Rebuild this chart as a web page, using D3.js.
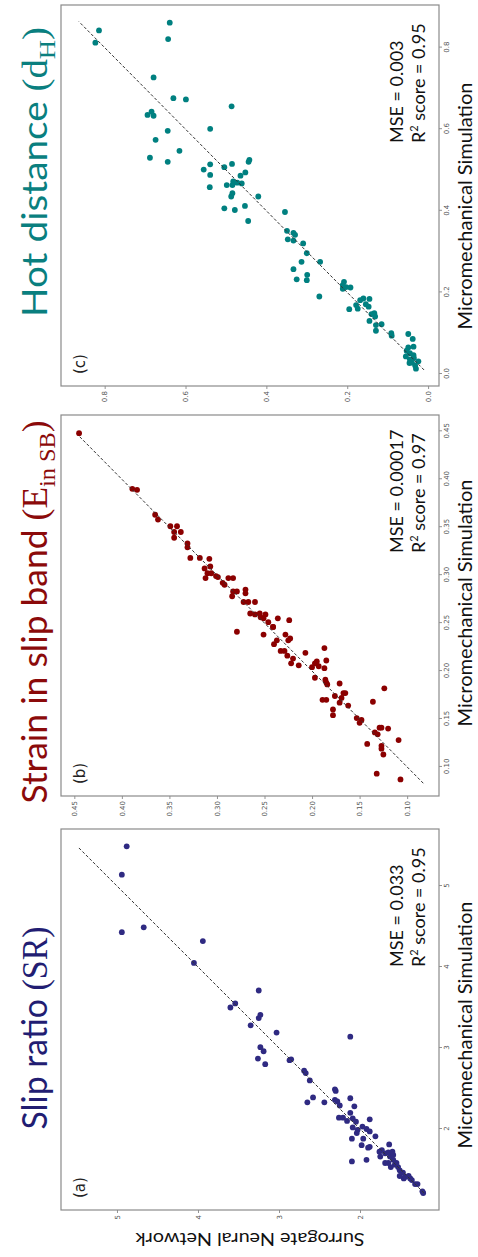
<!DOCTYPE html>
<html>
<head>
<meta charset="utf-8">
<script src="https://cdn.jsdelivr.net/npm/d3@7"></script>
<style>
  body { margin: 0; background: #fff; }
  text { font-family: Lato, "Open Sans", sans-serif; }
</style>
</head>
<body>
<div id="chart"></div>
<script>
// values: [micromechanical simulation, surrogate NN]
const slipRatio = [
  [1.21, 1.22], [1.23, 1.23], [1.32, 1.29], [1.32, 1.32], [1.37, 1.36], [1.39, 1.38],
  [1.39, 1.46], [1.41, 1.44], [1.42, 1.40], [1.42, 1.51], [1.46, 1.47], [1.49, 1.51],
  [1.53, 1.53], [1.53, 1.62], [1.56, 1.57], [1.58, 1.55], [1.58, 1.65], [1.58, 1.69],
  [1.62, 1.59], [1.60, 2.10], [1.62, 1.92], [1.66, 1.63], [1.66, 1.75], [1.68, 1.59],
  [1.70, 1.69], [1.71, 1.65], [1.72, 1.60], [1.72, 1.76], [1.74, 1.73], [1.77, 1.90],
  [1.78, 1.88], [1.80, 1.98], [1.81, 1.64], [1.88, 1.96], [1.88, 2.10], [1.91, 1.81],
  [1.95, 2.04], [1.97, 1.88], [1.99, 2.03], [2.00, 1.92], [2.02, 2.09], [2.03, 1.97],
  [2.09, 2.05], [2.10, 2.16], [2.12, 1.88], [2.13, 2.09], [2.14, 2.21], [2.14, 2.26],
  [2.20, 2.12], [2.28, 2.07], [2.29, 2.25], [2.34, 2.28], [2.36, 2.31], [2.38, 2.12],
  [2.47, 2.30], [2.49, 2.31], [2.33, 2.44], [2.33, 2.65], [2.39, 2.58], [2.60, 2.62],
  [2.69, 2.67], [2.72, 2.69], [2.85, 2.87], [2.86, 2.85], [2.80, 3.17], [2.87, 3.26],
  [2.96, 3.19], [3.01, 3.23], [3.14, 2.12], [3.19, 3.03], [3.28, 3.35], [3.37, 3.25],
  [3.41, 3.23], [3.50, 3.60], [3.55, 3.54], [3.71, 3.25], [4.05, 4.05], [4.32, 3.94],
  [4.43, 4.94], [4.49, 4.67], [5.14, 4.94], [5.49, 4.88]
];

const strainSB = [
  [0.087, 0.107], [0.093, 0.132], [0.113, 0.125], [0.119, 0.127], [0.122, 0.127], [0.124, 0.142],
  [0.128, 0.109], [0.134, 0.131], [0.136, 0.134], [0.140, 0.120], [0.141, 0.127], [0.141, 0.129],
  [0.146, 0.150], [0.149, 0.148], [0.151, 0.153], [0.154, 0.178], [0.160, 0.178], [0.164, 0.162],
  [0.167, 0.171], [0.168, 0.136], [0.170, 0.189], [0.170, 0.185], [0.172, 0.169], [0.174, 0.176],
  [0.177, 0.167], [0.177, 0.165], [0.182, 0.124], [0.186, 0.184], [0.187, 0.171], [0.188, 0.185],
  [0.191, 0.186], [0.193, 0.197], [0.203, 0.187], [0.204, 0.200], [0.205, 0.193], [0.206, 0.214],
  [0.208, 0.197], [0.208, 0.222], [0.210, 0.195], [0.211, 0.185], [0.213, 0.220], [0.216, 0.226],
  [0.219, 0.207], [0.221, 0.233], [0.221, 0.229], [0.224, 0.187], [0.228, 0.240], [0.232, 0.237],
  [0.232, 0.225], [0.234, 0.223], [0.238, 0.251], [0.238, 0.228], [0.241, 0.279], [0.246, 0.241],
  [0.246, 0.241], [0.251, 0.246], [0.253, 0.224], [0.255, 0.236], [0.255, 0.251], [0.256, 0.254],
  [0.259, 0.249], [0.259, 0.260], [0.260, 0.255], [0.260, 0.265], [0.272, 0.272], [0.272, 0.260],
  [0.272, 0.267], [0.278, 0.284], [0.281, 0.270], [0.283, 0.283], [0.283, 0.279], [0.285, 0.270],
  [0.290, 0.292], [0.292, 0.294], [0.297, 0.288], [0.297, 0.283], [0.297, 0.312], [0.298, 0.299],
  [0.299, 0.301], [0.302, 0.310], [0.302, 0.306], [0.307, 0.313], [0.309, 0.307], [0.317, 0.308],
  [0.318, 0.328], [0.318, 0.318], [0.329, 0.331], [0.333, 0.331], [0.339, 0.345], [0.345, 0.345],
  [0.345, 0.338], [0.351, 0.349], [0.351, 0.342], [0.358, 0.362], [0.363, 0.365], [0.389, 0.384],
  [0.390, 0.389], [0.448, 0.445]
];

const hotDistance = [
  [0.013, 0.030], [0.021, 0.032], [0.027, 0.046], [0.028, 0.040], [0.031, 0.024], [0.036, 0.045],
  [0.039, 0.035], [0.043, 0.055], [0.046, 0.036], [0.051, 0.045], [0.057, 0.053], [0.065, 0.049],
  [0.067, 0.036], [0.086, 0.038], [0.098, 0.049], [0.094, 0.090], [0.100, 0.091], [0.106, 0.129],
  [0.120, 0.129], [0.122, 0.115], [0.130, 0.145], [0.141, 0.131], [0.147, 0.140], [0.149, 0.133],
  [0.159, 0.195], [0.160, 0.174], [0.165, 0.147], [0.169, 0.178], [0.171, 0.154], [0.181, 0.168],
  [0.184, 0.145], [0.185, 0.160], [0.190, 0.269], [0.209, 0.211], [0.212, 0.192], [0.213, 0.203],
  [0.218, 0.211], [0.226, 0.208], [0.230, 0.300], [0.232, 0.325], [0.243, 0.299], [0.257, 0.333],
  [0.275, 0.313], [0.275, 0.267], [0.296, 0.300], [0.320, 0.309], [0.327, 0.333], [0.330, 0.347],
  [0.341, 0.329], [0.346, 0.333], [0.351, 0.349], [0.375, 0.445], [0.397, 0.354], [0.402, 0.478],
  [0.406, 0.504], [0.412, 0.453], [0.435, 0.420], [0.435, 0.487], [0.443, 0.484], [0.458, 0.540],
  [0.463, 0.484], [0.463, 0.498], [0.467, 0.461], [0.469, 0.472], [0.472, 0.482], [0.486, 0.464],
  [0.488, 0.539], [0.494, 0.452], [0.501, 0.555], [0.507, 0.504], [0.514, 0.539], [0.515, 0.485],
  [0.520, 0.644], [0.520, 0.444], [0.525, 0.442], [0.530, 0.688], [0.547, 0.615], [0.574, 0.674],
  [0.596, 0.644], [0.601, 0.539], [0.633, 0.679], [0.635, 0.694], [0.643, 0.684], [0.656, 0.486],
  [0.673, 0.599], [0.676, 0.630], [0.727, 0.679], [0.812, 0.823], [0.821, 0.643], [0.842, 0.814],
  [0.861, 0.639]
];

// axis ranges and ticks
const xDomains = [[1.0, 5.704], [0.0697, 0.467], [-0.0294, 0.9044]];
const yDomains = [[1.025, 5.691], [0.0665, 0.464], [-0.027, 0.908]];
const xTicks = [[2, 3, 4, 5], [0.10, 0.15, 0.20, 0.25, 0.30, 0.35, 0.40, 0.45], [0.0, 0.2, 0.4, 0.6, 0.8]];
const yTicks = xTicks;
const tickFormats = ["d", ".2f", ".1f"];
const identityLine = [[1.21, 5.47], [0.083, 0.445], [0.01, 0.864]];

const panelLetters = ["(a)", "(b)", "(c)"];
const mseText = ["MSE = 0.033", "MSE = 0.00017", "MSE = 0.003"];
const r2Text = [" score = 0.95", " score = 0.97", " score = 0.95"];
const titleParts = [
  [["Slip ratio ", "t"], ["(SR)", "m"]],
  [["Strain in slip band ", "t"], ["(E", "m"], ["in SB", "sub"], [")", "m"]],
  [["Hot distance ", "t"], ["(d", "m"], ["H", "sub"], [")", "m"]]
];
const xLabel = "Micromechanical Simulation";
const yLabel = "Surrogate Neural Network";

const series = [slipRatio, strainSB, hotDistance];
const colors = ["#2f2a82", "#8b0000", "#008080"];
const titleColors = ["#221d72", "#8b0a0a", "#0a7f7f"];

// layout — the figure is built landscape and then turned a quarter left
const W = 478, H = 1257;
const panelLeft = [47, 461, 871];
const panelW = 381;
const frameTop = 61, frameBottom = 439;
const titleCenter = [182, 184, 214];
const titleLen = [203, 383, 290];
const xLabelCenter = [185, 193, 180];

const svg = d3.select("#chart")
  .append("svg")
  .attr("width", W)
  .attr("height", H);

const fig = svg.append("g")
  .attr("transform", `translate(0,${H}) rotate(-90)`);

series.forEach((data, i) => {
  const g = fig.append("g").attr("transform", `translate(${panelLeft[i]},0)`);

  const x = d3.scaleLinear().domain(xDomains[i]).range([0, panelW]);
  const y = d3.scaleLinear().domain(yDomains[i]).range([frameBottom, frameTop]);

  // axes
  const xAxis = g.append("g")
    .attr("transform", `translate(0,${frameBottom})`)
    .call(d3.axisBottom(x).tickValues(xTicks[i]).tickSize(3).tickPadding(2)
      .tickFormat(d3.format(tickFormats[i])));
  const yAxis = g.append("g")
    .call(d3.axisLeft(y).tickValues(yTicks[i]).tickSize(3).tickPadding(2)
      .tickFormat(d3.format(tickFormats[i])));
  [xAxis, yAxis].forEach((ax) => {
    ax.select(".domain").remove();
    ax.selectAll(".tick line").attr("stroke", "#777").attr("stroke-width", 0.8);
    ax.selectAll(".tick text")
      .attr("fill", "#555")
      .style("font-family", "'DejaVu Sans', sans-serif")
      .style("font-size", "7px");
  });

  // frame
  g.append("rect")
    .attr("x", 0)
    .attr("y", frameTop)
    .attr("width", panelW)
    .attr("height", frameBottom - frameTop)
    .attr("fill", "none")
    .attr("stroke", "#8a8a8a")
    .attr("stroke-width", 1.2);

  // points
  g.selectAll("circle")
    .data(data)
    .enter()
    .append("circle")
    .attr("cx", (d) => x(d[0]))
    .attr("cy", (d) => y(d[1]))
    .attr("r", 2.9)
    .attr("fill", colors[i]);

  // y = x reference
  const [lo, hi] = identityLine[i];
  g.append("line")
    .attr("x1", x(lo)).attr("y1", y(lo))
    .attr("x2", x(hi)).attr("y2", y(hi))
    .attr("stroke", "#333")
    .attr("stroke-width", 1)
    .attr("stroke-dasharray", "3,2");

  // panel letter
  g.append("text")
    .attr("x", 12)
    .attr("y", 85)
    .attr("fill", "#222")
    .style("font-family", "'DejaVu Sans', sans-serif")
    .style("font-size", "15px")
    .text(panelLetters[i]);

  // scores
  g.append("text")
    .attr("x", 243)
    .attr("y", 403)
    .attr("fill", "#111")
    .style("font-size", "18px")
    .text(mseText[i]);
  const r2 = g.append("text")
    .attr("x", 243)
    .attr("y", 425)
    .attr("fill", "#111")
    .style("font-size", "18px");
  r2.append("tspan").text("R");
  r2.append("tspan").attr("dy", -7).style("font-size", "11px").text("2");
  r2.append("tspan").attr("dy", 7).text(r2Text[i]);

  // title
  const t = g.append("text")
    .attr("x", titleCenter[i])
    .attr("y", 47)
    .attr("text-anchor", "middle")
    .attr("fill", titleColors[i])
    .style("font-size", "35px")
    .attr("textLength", titleLen[i])
    .attr("lengthAdjust", "spacingAndGlyphs");
  let shift = 0;
  titleParts[i].forEach(([str, kind]) => {
    const ts = t.append("tspan").text(str);
    if (kind !== "t") ts.style("font-family", "'Liberation Serif', serif");
    if (kind === "sub") {
      ts.attr("dy", 8 - shift).style("font-size", "24px");
      shift = 8;
    } else if (shift) {
      ts.attr("dy", -shift);
      shift = 0;
    }
  });

  // x label
  g.append("text")
    .attr("x", xLabelCenter[i])
    .attr("y", 472)
    .attr("text-anchor", "middle")
    .attr("fill", "#111")
    .style("font-size", "19px")
    .attr("textLength", 247)
    .attr("lengthAdjust", "spacingAndGlyphs")
    .text(xLabel);

  // y label only on the first panel
  if (i === 0) {
    g.append("text")
      .attr("transform", `translate(${24 - panelLeft[0]},250) rotate(-90)`)
      .attr("text-anchor", "middle")
      .attr("fill", "#111")
      .style("font-size", "18px")
      .attr("textLength", 229)
      .attr("lengthAdjust", "spacingAndGlyphs")
      .text(yLabel);
  }
});
</script>
</body>
</html>
